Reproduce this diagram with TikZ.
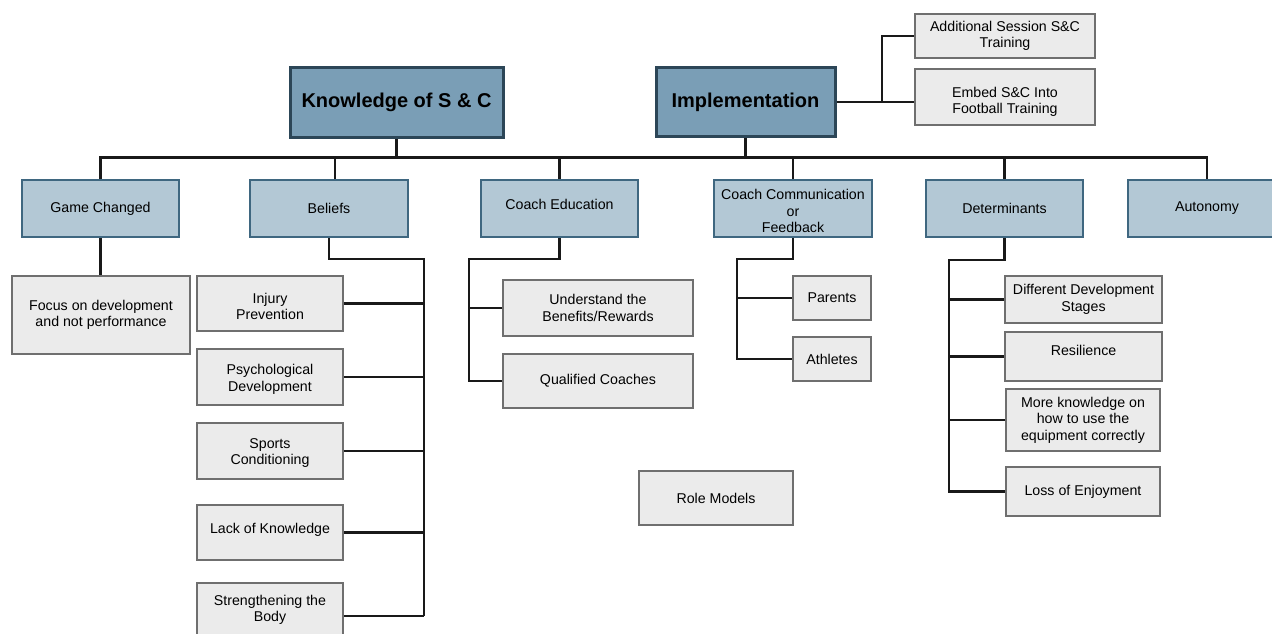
\documentclass[tikz,border=0pt]{standalone}
\usepackage{fontspec}
\setmainfont{Liberation Sans}
\definecolor{topfill}{HTML}{7A9EB6}
\definecolor{topdraw}{HTML}{2C4657}
\definecolor{midfill}{HTML}{B3C8D5}
\definecolor{middraw}{HTML}{3F6780}
\definecolor{leaffill}{HTML}{EBEBEB}
\definecolor{leafdraw}{HTML}{6F6F6F}
\tikzset{
  topbox/.style={draw=topdraw, fill=topfill, line width=3pt, inner sep=0pt, align=center,
    font=\fontsize{20}{23}\selectfont\bfseries},
  midbox/.style={draw=middraw, fill=midfill, line width=2pt, inner sep=0pt, align=center,
    font=\fontsize{14.2}{16.6}\selectfont},
  leafbox/.style={draw=leafdraw, fill=leaffill, line width=1.5pt, inner sep=0pt, align=center,
    font=\fontsize{14.2}{16.6}\selectfont},
  txt/.style={inner sep=0pt, align=center, font=\fontsize{14.2}{16.6}\selectfont},
  conn/.style={draw=black!90, line width=2.4pt},
}
\begin{document}
\begin{tikzpicture}[x=1pt, y=-1pt]
\useasboundingbox (0,0) rectangle (1272,634);
\clip (0,0) rectangle (1272,634);
\fill[white] (0,0) rectangle (1272,634);

% top level
\node[topbox, minimum width=213pt, minimum height=69pt] (know) at (396.5,102.5) {Knowledge of S \& C};
\node[topbox, minimum width=179pt, minimum height=68pt] (impl) at (745.5,102) {Implementation};
\node[leafbox, minimum width=180pt, minimum height=44pt] (add) at (1005,36) {Additional Session S\&C\\Training};
\node[leafbox, minimum width=180pt, minimum height=56pt] (embed) at (1005,97) {};
\node[txt] (embedtxt) at (1005,102) {Embed S\&C Into\\Football Training};

% second level
\node[midbox, minimum width=157pt, minimum height=57pt] (gc) at (100.5,208.5) {Game Changed};
\node[midbox, minimum width=158pt, minimum height=57pt] (bel) at (329,208.5) {Beliefs};
\node[midbox, minimum width=157pt, minimum height=57pt] (ce) at (559.5,208.5) {};
\node[txt] (cetxt) at (559.5,204) {Coach Education};
\node[midbox, minimum width=158pt, minimum height=57pt] (ccf) at (793,208.5) {};
\node[txt] (ccftxt) at (793,211) {Coach Communication\\or\\Feedback};
\node[midbox, minimum width=157pt, minimum height=57pt] (det) at (1004.5,208.5) {Determinants};
\node[midbox, minimum width=158pt, minimum height=57pt] (aut) at (1207,208.5) {Autonomy};

% third level
\node[leafbox, minimum width=178pt, minimum height=78pt] (focus) at (101,315) {Focus on development\\and not performance};

\node[leafbox, minimum width=146pt, minimum height=55pt] (inj) at (270,303.5) {};
\node[txt] (injtxt) at (270,306.5) {Injury\\Prevention};
\node[leafbox, minimum width=146pt, minimum height=56pt] (psy) at (270,377) {};
\node[txt] (psytxt) at (270,379.5) {Psychological\\Development};
\node[leafbox, minimum width=146pt, minimum height=56pt] (spo) at (270,451) {};
\node[txt] (spotxt) at (270,453) {Sports\\Conditioning};
\node[leafbox, minimum width=146pt, minimum height=55pt] (lak) at (270,532.5) {};
\node[txt] (laktxt) at (270,530) {Lack of Knowledge};
\node[leafbox, minimum width=146pt, minimum height=66pt] (str) at (270,616) {};
\node[txt] (strtxt) at (270,610) {Strengthening the\\Body};

\node[leafbox, minimum width=190pt, minimum height=56pt] (und) at (598,308) {Understand the\\Benefits/Rewards};
\node[leafbox, minimum width=190pt, minimum height=54pt] (qual) at (598,381) {Qualified Coaches};
\node[leafbox, minimum width=154pt, minimum height=54pt] (role) at (716,498) {Role Models};

\node[leafbox, minimum width=78pt, minimum height=44pt] (par) at (832,298) {Parents};
\node[leafbox, minimum width=78pt, minimum height=44pt] (ath) at (832,359) {Athletes};

\node[leafbox, minimum width=157pt, minimum height=47pt] (dds) at (1083.5,299.5) {Different Development\\Stages};
\node[leafbox, minimum width=157pt, minimum height=49pt] (res) at (1083.5,356.5) {};
\node[txt] (restxt) at (1083.5,350) {Resilience};
\node[leafbox, minimum width=154pt, minimum height=62pt] (more) at (1083,420) {More knowledge on\\how to use the\\equipment correctly};
\node[leafbox, minimum width=154pt, minimum height=49pt] (loss) at (1083,491.5) {Loss of Enjoyment};

% junction coordinates
\coordinate (busY) at (0,157.5);
\coordinate (jImpl) at (882,102);
\coordinate (belDrop) at (335,0);
\coordinate (belY) at (0,259);
\coordinate (belX) at (424,0);
\coordinate (ceX) at (469,0);
\coordinate (ccfX) at (737,0);
\coordinate (detX) at (949,0);
\coordinate (detY) at (0,260);

% implementation side branches
\draw[conn] (impl.east) -- (impl.east -| embed.west);
\draw[conn] (jImpl) |- (add.west);

% bus
\draw[conn] (gc.north) -- (gc.north |- busY) -- (aut.north |- busY) -- (aut.north);
\draw[conn] (know.south) -- (know.south |- busY);
\draw[conn] (impl.south) -- (impl.south |- busY);
\draw[conn] (belDrop |- bel.north) -- (belDrop |- busY);
\draw[conn] (ce.north) -- (ce.north |- busY);
\draw[conn] (ccf.north) -- (ccf.north |- busY);
\draw[conn] (det.north) -- (det.north |- busY);

% game changed
\draw[conn] (gc.south) -- (focus.north -| gc.south);

% beliefs tree
\draw[conn] (bel.south) -- (bel.south |- belY) -- (belX |- belY) -- (belX |- str.east);
\draw[conn] (inj.east) -- (belX |- inj.east);
\draw[conn] (psy.east) -- (belX |- psy.east);
\draw[conn] (spo.east) -- (belX |- spo.east);
\draw[conn] (lak.east) -- (belX |- lak.east);
\draw[conn] (str.east) -- (belX |- str.east);

% coach education tree
\draw[conn] (ce.south) -- (ce.south |- belY) -- (ceX |- belY) -- (ceX |- qual.west) -- (qual.west);
\draw[conn] (und.west) -- (ceX |- und.west);

% coach communication tree
\draw[conn] (ccf.south) -- (ccf.south |- belY) -- (ccfX |- belY) -- (ccfX |- ath.west) -- (ath.west);
\draw[conn] (par.west) -- (ccfX |- par.west);

% determinants tree
\draw[conn] (det.south) -- (det.south |- detY) -- (detX |- detY) -- (detX |- loss.west) -- (loss.west);
\draw[conn] (dds.west) -- (detX |- dds.west);
\draw[conn] (res.west) -- (detX |- res.west);
\draw[conn] (more.west) -- (detX |- more.west);
\end{tikzpicture}
\end{document}
